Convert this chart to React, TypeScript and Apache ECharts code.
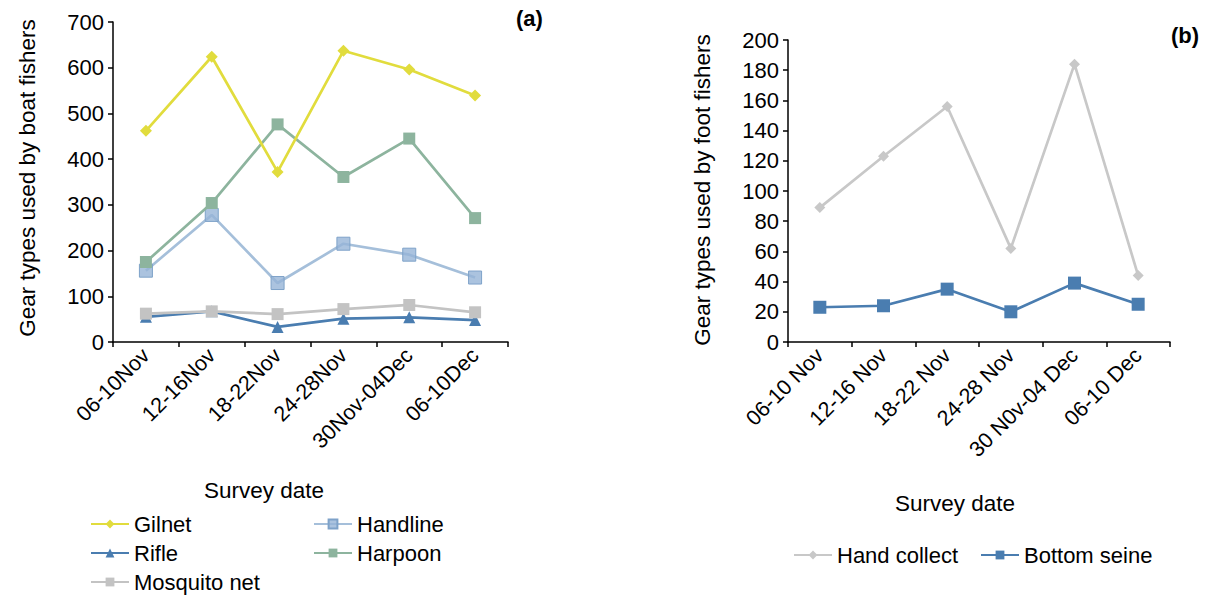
import React, { useEffect, useRef } from "react";
import * as echarts from "echarts";

const boatDates = ["06-10Nov", "12-16Nov", "18-22Nov", "24-28Nov", "30Nov-04Dec", "06-10Dec"];
const footDates = ["06-10 Nov", "12-16 Nov", "18-22 Nov", "24-28 Nov", "30 N0v-04 Dec", "06-10 Dec"];

const gilnet = [462, 624, 372, 637, 596, 539];
const handline = [156, 278, 129, 215, 191, 141];
const rifle = [55, 67, 33, 51, 54, 48];
const harpoon = [175, 304, 476, 361, 445, 271];
const mosquitoNet = [62, 67, 61, 72, 81, 65];

const handCollect = [89, 123, 156, 62, 184, 44];
const bottomSeine = [23, 24, 35, 20, 39, 25];

const FONT = "Liberation Sans, Arial, Helvetica, sans-serif";

export default function App() {
  const ref = useRef<HTMLDivElement>(null);
  useEffect(() => {
    if (!ref.current) return;
    const chart = echarts.init(ref.current, undefined, { renderer: "svg" });
    const axisLine = { show: true, lineStyle: { color: "#000", width: 1.5 } };
    const axisTick = { show: true, length: 5, lineStyle: { color: "#000", width: 1.5 } };
    const xLabel = { rotate: 45, interval: 0, fontSize: 21.5, color: "#000", fontFamily: FONT, margin: 10 };
    const yLabel = { fontSize: 22, color: "#000", fontFamily: FONT, margin: 9 };
    const legendText = { fontSize: 22, color: "#000", fontFamily: FONT };
    const titleFont = `22.5px ${FONT}`;
    const lg = (name: string, left: number, top: number) => ({
      data: [name], left, top, padding: 0, itemWidth: 38, itemHeight: 11, itemGap: 0, textStyle: legendText,
    });
    const line = (name: string, data: number[], color: string, symbol: string, size: number, idx: number, extra: any = {}) => ({
      name,
      type: "line",
      data,
      xAxisIndex: idx,
      yAxisIndex: idx,
      symbol,
      symbolSize: size,
      showAllSymbol: true,
      lineStyle: { color, width: 2.7 },
      itemStyle: { color, ...(extra.itemStyle || {}) },
      z: extra.z || 2,
    });
    chart.setOption({
      animation: false,
      backgroundColor: "#fff",
      grid: [
        { left: 113, top: 22, right: 1211 - 508, bottom: 598 - 342 },
        { left: 788, top: 40, right: 1211 - 1170, bottom: 598 - 342 },
      ],
      xAxis: [
        {
          type: "category", gridIndex: 0, data: boatDates, boundaryGap: true,
          axisLine, axisTick, axisLabel: xLabel,
        },
        {
          type: "category", gridIndex: 1, data: footDates, boundaryGap: true,
          axisLine, axisTick, axisLabel: xLabel,
        },
      ],
      yAxis: [
        {
          type: "value", gridIndex: 0, min: 0, max: 700, interval: 100,
          axisLine, axisTick, axisLabel: yLabel, splitLine: { show: false },
        },
        {
          type: "value", gridIndex: 1, min: 0, max: 200, interval: 20,
          axisLine, axisTick, axisLabel: yLabel, splitLine: { show: false },
        },
      ],
      legend: [
        lg("Gilnet", 90, 513),
        lg("Handline", 313, 513),
        lg("Rifle", 90, 542),
        lg("Harpoon", 313, 542),
        lg("Mosquito net", 90, 571),
        lg("Hand collect", 793, 544),
        lg("Bottom seine", 980, 544),
      ],
      graphic: [
        { type: "text", x: 516, y: 7, style: { text: "(a)", font: `bold 22px ${FONT}`, fill: "#000" } },
        { type: "text", x: 1171, y: 24, style: { text: "(b)", font: `bold 22px ${FONT}`, fill: "#000" } },
        {
          type: "text", x: 27, y: 178, rotation: Math.PI / 2,
          style: { text: "Gear types used by boat fishers", font: titleFont, fill: "#000", align: "center", verticalAlign: "middle" },
        },
        {
          type: "text", x: 702, y: 190, rotation: Math.PI / 2,
          style: { text: "Gear types used by foot fishers", font: titleFont, fill: "#000", align: "center", verticalAlign: "middle" },
        },
        {
          type: "text", x: 264, y: 490,
          style: { text: "Survey date", font: titleFont, fill: "#000", align: "center", verticalAlign: "middle" },
        },
        {
          type: "text", x: 955, y: 503,
          style: { text: "Survey date", font: titleFont, fill: "#000", align: "center", verticalAlign: "middle" },
        },
      ],
      series: [
        line("Gilnet", gilnet, "#e1dc3d", "diamond", 12, 0, { z: 5 }),
        line("Handline", handline, "#a5bfda", "rect", 13, 0, {
          itemStyle: { color: "rgba(150,180,215,0.8)", borderColor: "#7ea2c9", borderWidth: 1 }, z: 3,
        }),
        line("Rifle", rifle, "#4a7db0", "triangle", 12, 0, { z: 3 }),
        line("Harpoon", harpoon, "#8db49e", "rect", 12, 0, { z: 4 }),
        line("Mosquito net", mosquitoNet, "#c3c3c3", "rect", 12, 0, { z: 4 }),
        line("Hand collect", handCollect, "#c8c8c8", "diamond", 11, 1),
        line("Bottom seine", bottomSeine, "#4a7db0", "rect", 13, 1),
      ],
    });
    return () => chart.dispose();
  }, []);
  return <div ref={ref} style={{ width: 1211, height: 598, position: "absolute", left: 0, top: 0 }} />;
}
